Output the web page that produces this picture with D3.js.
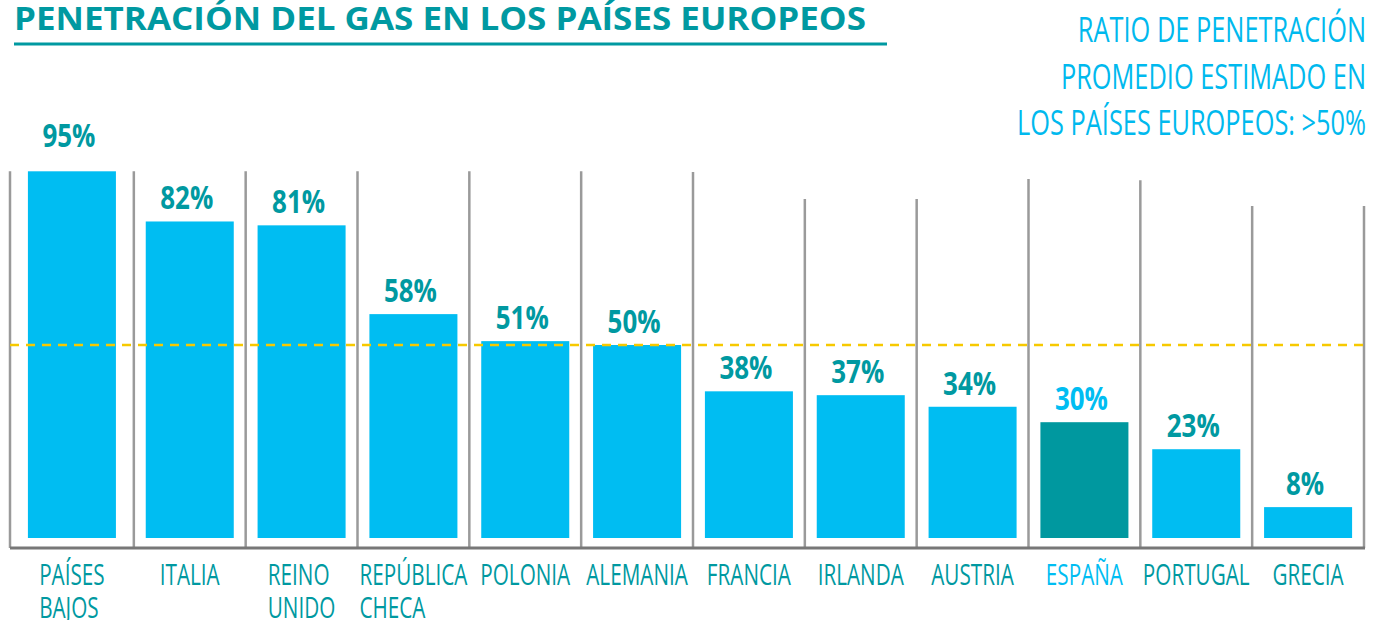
<!DOCTYPE html>
<html>
<head>
<meta charset="utf-8">
<script src="https://cdn.jsdelivr.net/npm/d3@7"></script>
<style>
  body { margin: 0; background: #fff; }
  text { font-family: "Open Sans", sans-serif; }
</style>
</head>
<body>
<div id="chart"></div>
<script>
// data
const countries = ["PAÍSES BAJOS", "ITALIA", "REINO UNIDO", "REPÚBLICA CHECA", "POLONIA", "ALEMANIA",
  "FRANCIA", "IRLANDA", "AUSTRIA", "ESPAÑA", "PORTUGAL", "GRECIA"];
const labelLines = [["PAÍSES", "BAJOS"], ["ITALIA"], ["REINO", "UNIDO"], ["REPÚBLICA", "CHECA"], ["POLONIA"],
  ["ALEMANIA"], ["FRANCIA"], ["IRLANDA"], ["AUSTRIA"], ["ESPAÑA"], ["PORTUGAL"], ["GRECIA"]];
const penetration = [95, 82, 81, 58, 51, 50, 38, 37, 34, 30, 23, 8];
const highlight = "ESPAÑA";
const average = 50;
// top of the grey dividers between columns, in % units (13 dividers)
const dividerTop = [95, 95, 95, 95, 95, 95, 94.8, 87.8, 87.8, 93, 92.7, 86, 86];

const title = "PENETRACIÓN DEL GAS EN LOS PAÍSES EUROPEOS";
const note = ["RATIO DE PENETRACIÓN", "PROMEDIO ESTIMADO EN", "LOS PAÍSES EUROPEOS: >50%"];

const width = 1378, height = 620;
const teal = "#0099a1", sky = "#00bdf2", grey = "#9a9a9a";
const chartLeft = 10, baseY = 548;

const svg = d3.select("#chart").append("svg")
  .attr("width", width)
  .attr("height", height);

const x = d3.scaleBand()
  .domain(countries)
  .range([22, 1364])
  .paddingInner(0.213)
  .paddingOuter(0.1065);

const y = d3.scaleLinear()
  .domain([0, 100])
  .range([538, 152]);

// horizontal squeeze factor so that `str` is `target` px wide (mimics the condensed face)
function factorFor(str, size, weight, target) {
  const t = svg.append("text").attr("font-size", size).attr("font-weight", weight).text(str);
  const f = target / t.node().getComputedTextLength();
  t.remove();
  return f;
}
function place(sel, fx, fy, f) {
  sel.attr("x", 0).attr("y", 0)
    .attr("transform", (d, i) => `translate(${fx(d, i)},${fy(d, i)}) scale(${f},1)`);
}

// title + underline
const titleF = factorFor(title, 33, 700, 852);
const titleText = svg.append("text")
  .attr("font-size", 33).attr("font-weight", 700)
  .attr("fill", teal)
  .text(title);
place(titleText, () => 14, () => 30, titleF);

svg.append("line")
  .attr("x1", 14).attr("x2", 887)
  .attr("y1", 44).attr("y2", 44)
  .attr("stroke", teal).attr("stroke-width", 3);

// note top right
const noteF = factorFor(note[2], 34, 400, 349);
const noteText = svg.append("g").selectAll("text")
  .data(note)
  .join("text")
  .attr("text-anchor", "end")
  .attr("font-size", 34)
  .attr("fill", "#00b9ee")
  .text(d => d);
place(noteText, () => 1366, (d, i) => 42 + i * 46.5, noteF);

// slot edges for the dividers; bars sit centred between them
const slotEdge = i => {
  if (i === 0) return chartLeft;
  const gap = (x.step() - x.bandwidth()) / 2;
  if (i === countries.length) return x(countries[i - 1]) + x.bandwidth() + gap;
  return x(countries[i]) - gap;
};
const center = (d, i) => (slotEdge(i) + slotEdge(i + 1)) / 2;

svg.append("g").selectAll("line")
  .data(dividerTop)
  .join("line")
  .attr("x1", (d, i) => slotEdge(i))
  .attr("x2", (d, i) => slotEdge(i))
  .attr("y1", d => y(d))
  .attr("y2", baseY)
  .attr("stroke", grey)
  .attr("stroke-width", 2.5);

// bars
svg.append("g").selectAll("rect")
  .data(countries)
  .join("rect")
  .attr("x", (d, i) => center(d, i) - x.bandwidth() / 2)
  .attr("width", x.bandwidth())
  .attr("y", (d, i) => y(penetration[i]))
  .attr("height", (d, i) => y(0) - y(penetration[i]))
  .attr("fill", d => d === highlight ? "#00989f" : sky);

// average line
svg.append("line")
  .attr("x1", chartLeft).attr("x2", slotEdge(countries.length))
  .attr("y1", y(average)).attr("y2", y(average))
  .attr("stroke", "#f7c900")
  .attr("stroke-width", 2.5)
  .attr("stroke-dasharray", "9 7");

// baseline
svg.append("line")
  .attr("x1", chartLeft).attr("x2", slotEdge(countries.length) + 1)
  .attr("y1", baseY).attr("y2", baseY)
  .attr("stroke", "#777")
  .attr("stroke-width", 3);

// value labels
const valF = factorFor("82%", 33, 700, 53);
const values = svg.append("g").selectAll("text")
  .data(countries)
  .join("text")
  .attr("text-anchor", "middle")
  .attr("font-size", 33)
  .attr("font-weight", 700)
  .attr("fill", d => d === highlight ? sky : teal)
  .text((d, i) => penetration[i] + "%");
place(values, (d, i) => center(d, i) - 3, (d, i) => y(penetration[i]) - (i === 0 ? 24 : 12), valF);

// category labels: block centred under the bar, lines left-aligned
const labF = factorFor("ITALIA", 30, 400, 60);
countries.forEach((c, i) => {
  const lines = svg.append("g").selectAll("text")
    .data(labelLines[i])
    .join("text")
    .attr("font-size", 30)
    .attr("fill", c === highlight ? sky : teal)
    .text(d => d);
  const maxW = d3.max(lines.nodes(), n => n.getComputedTextLength()) * labF;
  place(lines, () => center(c, i) - maxW / 2, (d, j) => 585 + j * 33, labF);
});
</script>
</body>
</html>
